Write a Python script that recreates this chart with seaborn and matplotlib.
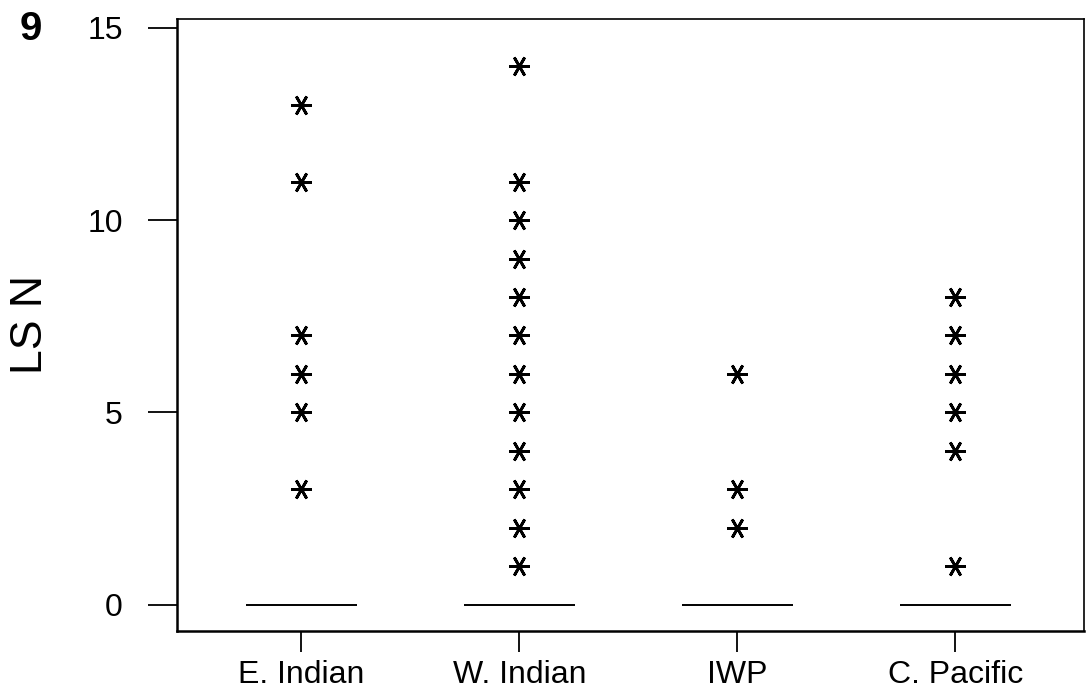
import matplotlib
matplotlib.use("Agg")
import matplotlib.pyplot as plt
import pandas as pd
import seaborn as sns

# regions and their non-zero LS N values (outliers); the rest of each sample is zeros
regions = ["E. Indian", "W. Indian", "IWP", "C. Pacific"]
e_indian = [3, 5, 6, 7, 11, 13]
w_indian = [1, 2, 3, 4, 5, 6, 7, 8, 9, 10, 11, 14]
iwp = [2, 3, 6]
c_pacific = [1, 4, 5, 6, 7, 8]
n_zeros = [60, 80, 40, 50]

rows = []
for reg, vals, nz in zip(regions, [e_indian, w_indian, iwp, c_pacific], n_zeros):
    for v in vals + [0] * nz:
        rows.append({"region": reg, "LS N": v})
data = pd.DataFrame(rows)

sns.set_style("ticks")
plt.rcParams['font.family'] = ['Liberation Sans', 'DejaVu Sans']
plt.rcParams['text.color'] = 'black'
plt.rcParams['axes.labelcolor'] = 'black'
plt.rcParams['xtick.color'] = 'black'
plt.rcParams['ytick.color'] = 'black'

fig, ax = plt.subplots(figsize=(10.86, 6.95), dpi=100)
fig.subplots_adjust(left=0.163, right=0.998, top=0.973, bottom=0.092)

sns.boxplot(data=data, x="region", y="LS N", order=regions, ax=ax,
            width=0.51, color="white", linecolor="black", linewidth=1.2,
            showcaps=False,
            flierprops=dict(marker=(6, 2, 30), markersize=15,
                            markeredgecolor="black", markeredgewidth=2.0))

ax.set_xlim(-0.57, 3.59)
ax.set_ylim(-0.68, 15.23)
ax.set_yticks([0, 5, 10, 15])
ax.set_xlabel("")
ax.set_ylabel("LS N", fontsize=32)
ax.yaxis.set_label_coords(-0.139, 0.5)

for s in ax.spines.values():
    s.set_visible(True)
    s.set_color("black")
    s.set_linewidth(1.2)
ax.spines["left"].set_linewidth(1.8)
ax.spines["bottom"].set_linewidth(1.8)

ax.tick_params(axis="y", length=21, width=1.3, pad=18, labelsize=23, colors="black")
ax.tick_params(axis="x", length=15, width=1.3, pad=6, labelsize=23, colors="black")

fig.text(0.028, 0.958, "9", fontsize=29, fontweight="bold", ha="center", va="center")

fig.savefig("out.png", dpi=100)
